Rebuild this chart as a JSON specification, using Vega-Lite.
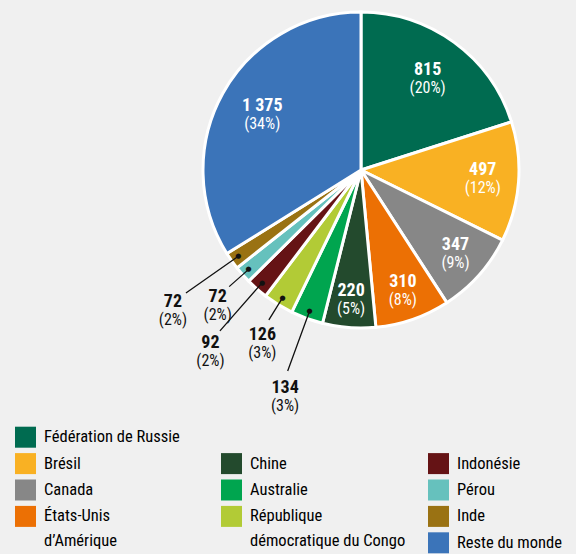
{
  "$schema": "https://vega.github.io/schema/vega-lite/v6.json",
  "background": "#f0f0f0",
  "padding": 0,
  "spacing": 0,
  "config": {
    "view": {"stroke": null},
    "font": "'Liberation Sans Narrow', 'Roboto Condensed', 'DejaVu Sans Condensed', 'Liberation Sans', sans-serif",
    "locale": {"number": {"decimal": ",", "thousands": " ", "grouping": [3], "currency": ["", " €"]}},
    "legend": {
      "orient": "none",
      "symbolType": "square",
      "symbolSize": 441,
      "symbolStrokeWidth": 0,
      "symbolOpacity": 1,
      "labelFont": "'Liberation Sans Narrow', 'Roboto Condensed', 'DejaVu Sans Condensed', 'Liberation Sans', sans-serif",
      "labelFontSize": 16.5,
      "labelColor": "#000000",
      "labelLimit": 400,
      "labelOffset": 8,
      "rowPadding": 5.4,
      "padding": 0
    }
  },
  "datasets": {
    "mines": [
      {"country": "Fédération de Russie", "value": 815},
      {"country": "Brésil", "value": 497},
      {"country": "Canada", "value": 347},
      {"country": "États-Unis d’Amérique", "value": 310},
      {"country": "Chine", "value": 220},
      {"country": "Australie", "value": 134},
      {"country": "République démocratique du Congo", "value": 126},
      {"country": "Indonésie", "value": 92},
      {"country": "Pérou", "value": 72},
      {"country": "Inde", "value": 72},
      {"country": "Reste du monde", "value": 1375}
    ]
  },
  "resolve": {"scale": {"color": "independent"}, "legend": {"color": "independent"}},
  "vconcat": [
    {
      "spacing": 0,
      "resolve": {"scale": {"color": "independent"}, "legend": {"color": "independent"}},
      "hconcat": [
        {
          "width": 146,
          "height": 424,
          "data": {"values": []},
          "mark": {"type": "text", "text": ""}
        },
        {
          "width": 430,
          "height": 340,
          "data": {"name": "mines"},
          "transform": [
            {"window": [{"op": "row_number", "as": "idx"}]},
            {"joinaggregate": [{"op": "sum", "field": "value", "as": "total"}]},
            {"window": [{"op": "sum", "field": "value", "as": "cum"}], "sort": [{"field": "idx"}], "frame": [null, 0]},
            {"calculate": "datum.cum - datum.value / 2", "as": "mid"},
            {"calculate": "'(' + format(datum.value / datum.total, '.0%') + ')'", "as": "pctLabel"}
          ],
          "layer": [
            {
              "mark": {"type": "arc", "outerRadius": 158, "stroke": "#ffffff", "strokeWidth": 3},
              "encoding": {
                "theta": {"field": "value", "type": "quantitative", "stack": true},
                "order": {"field": "idx", "type": "quantitative"},
                "color": {
                  "field": "country",
                  "type": "nominal",
                  "legend": null,
                  "scale": {
                    "domain": ["Fédération de Russie", "Brésil", "Canada", "États-Unis d’Amérique", "Chine", "Australie", "République démocratique du Congo", "Indonésie", "Pérou", "Inde", "Reste du monde"],
                    "range": ["#006B50", "#F9B123", "#878787", "#EC7004", "#234A2D", "#00A54F", "#B2CB36", "#651315", "#66C1BD", "#9A7213", "#3B74B9"]
                  }
                }
              }
            },
            {
              "transform": [{"filter": "datum.value < 200 && datum.idx % 2 == 0"}],
              "mark": {"type": "arc", "innerRadius": 150, "outerRadius": 214, "stroke": "#111111", "strokeWidth": 1.3, "fillOpacity": 0},
              "encoding": {
                "theta": {"field": "mid", "type": "quantitative", "stack": null},
                "theta2": {"field": "mid"}
              }
            },
            {
              "transform": [{"filter": "datum.value < 200 && datum.idx % 2 == 1"}],
              "mark": {"type": "arc", "innerRadius": 150, "outerRadius": 176, "stroke": "#111111", "strokeWidth": 1.3, "fillOpacity": 0},
              "encoding": {
                "theta": {"field": "mid", "type": "quantitative", "stack": null},
                "theta2": {"field": "mid"}
              }
            },
            {
              "transform": [{"filter": "datum.value < 200"}],
              "mark": {"type": "text", "text": "●", "font": "DejaVu Sans", "fontSize": 7, "radius": 150, "baseline": "middle", "align": "center", "color": "#111111"},
              "encoding": {
                "theta": {"field": "mid", "type": "quantitative", "stack": null}
              }
            },
            {
              "transform": [{"filter": "datum.value >= 200"}],
              "mark": {"type": "text", "fontSize": 18, "fontWeight": "bold", "color": "#ffffff", "baseline": "alphabetic", "align": "center", "dy": -4},
              "encoding": {
                "theta": {"field": "mid", "type": "quantitative", "stack": null},
                "radius": {"field": "value", "type": "quantitative", "scale": {"type": "linear", "domain": [200, 800], "range": [131, 113], "clamp": true, "zero": false}},
                "text": {"field": "value", "type": "quantitative", "format": ","}
              }
            },
            {
              "transform": [{"filter": "datum.value >= 200"}],
              "mark": {"type": "text", "fontSize": 16, "color": "#ffffff", "baseline": "alphabetic", "align": "center", "dy": 14},
              "encoding": {
                "theta": {"field": "mid", "type": "quantitative", "stack": null},
                "radius": {"field": "value", "type": "quantitative", "scale": {"type": "linear", "domain": [200, 800], "range": [131, 113], "clamp": true, "zero": false}},
                "text": {"field": "pctLabel", "type": "nominal"}
              }
            },
            {
              "transform": [{"filter": "datum.value < 200 && datum.idx % 2 == 0"}],
              "mark": {"type": "text", "fontSize": 18, "fontWeight": "bold", "color": "#111111", "baseline": "alphabetic", "align": "center", "radius": 236, "dx": 5, "dy": 1},
              "encoding": {
                "theta": {"field": "mid", "type": "quantitative", "stack": null},
                "text": {"field": "value", "type": "quantitative", "format": ","}
              }
            },
            {
              "transform": [{"filter": "datum.value < 200 && datum.idx % 2 == 0"}],
              "mark": {"type": "text", "fontSize": 16, "color": "#111111", "baseline": "alphabetic", "align": "center", "radius": 236, "dx": 5, "dy": 19},
              "encoding": {
                "theta": {"field": "mid", "type": "quantitative", "stack": null},
                "text": {"field": "pctLabel", "type": "nominal"}
              }
            },
            {
              "transform": [{"filter": "datum.value < 200 && datum.idx % 2 == 1"}],
              "mark": {"type": "text", "fontSize": 18, "fontWeight": "bold", "color": "#111111", "baseline": "alphabetic", "align": "center", "radius": 198, "dx": 5, "dy": 1},
              "encoding": {
                "theta": {"field": "mid", "type": "quantitative", "stack": null},
                "text": {"field": "value", "type": "quantitative", "format": ","}
              }
            },
            {
              "transform": [{"filter": "datum.value < 200 && datum.idx % 2 == 1"}],
              "mark": {"type": "text", "fontSize": 16, "color": "#111111", "baseline": "alphabetic", "align": "center", "radius": 198, "dx": 5, "dy": 19},
              "encoding": {
                "theta": {"field": "mid", "type": "quantitative", "stack": null},
                "text": {"field": "pctLabel", "type": "nominal"}
              }
            }
          ]
        }
      ]
    },
    {
      "spacing": 0,
      "resolve": {"scale": {"color": "independent"}, "legend": {"color": "independent"}},
      "hconcat": [
        {
          "width": 206,
          "height": 130,
          "data": {"name": "mines"},
          "transform": [{"filter": {"field": "country", "oneOf": ["Fédération de Russie", "Brésil", "Canada", "États-Unis d’Amérique"]}}],
          "mark": {"type": "square", "opacity": 0},
          "encoding": {
            "color": {
              "field": "country",
              "type": "nominal",
              "scale": {
                "domain": ["Fédération de Russie", "Brésil", "Canada", "États-Unis d’Amérique"],
                "range": ["#006B50", "#F9B123", "#878787", "#EC7004"]
              },
              "legend": {
                "title": null,
                "legendX": 15,
                "legendY": 2.7,
                "labelExpr": "datum.label == 'États-Unis d’Amérique' ? ['États-Unis', 'd’Amérique'] : datum.label",
                "encode": {"labels": {"update": {"lineHeight": {"value": 25}}}}
              }
            }
          }
        },
        {
          "width": 207,
          "height": 130,
          "data": {"name": "mines"},
          "transform": [{"filter": {"field": "country", "oneOf": ["Chine", "Australie", "République démocratique du Congo"]}}],
          "mark": {"type": "square", "opacity": 0},
          "encoding": {
            "color": {
              "field": "country",
              "type": "nominal",
              "scale": {
                "domain": ["Chine", "Australie", "République démocratique du Congo"],
                "range": ["#234A2D", "#00A54F", "#B2CB36"]
              },
              "legend": {
                "title": null,
                "legendX": 15,
                "legendY": 29.1,
                "labelExpr": "datum.label == 'République démocratique du Congo' ? ['République', 'démocratique du Congo'] : datum.label",
                "encode": {"labels": {"update": {"lineHeight": {"value": 25}}}}
              }
            }
          }
        },
        {
          "width": 163,
          "height": 130,
          "data": {"name": "mines"},
          "transform": [{"filter": {"field": "country", "oneOf": ["Indonésie", "Pérou", "Inde", "Reste du monde"]}}],
          "mark": {"type": "square", "opacity": 0},
          "encoding": {
            "color": {
              "field": "country",
              "type": "nominal",
              "scale": {
                "domain": ["Indonésie", "Pérou", "Inde", "Reste du monde"],
                "range": ["#651315", "#66C1BD", "#9A7213", "#3B74B9"]
              },
              "legend": {
                "title": null,
                "legendX": 15,
                "legendY": 29.1
              }
            }
          }
        }
      ]
    }
  ]
}
